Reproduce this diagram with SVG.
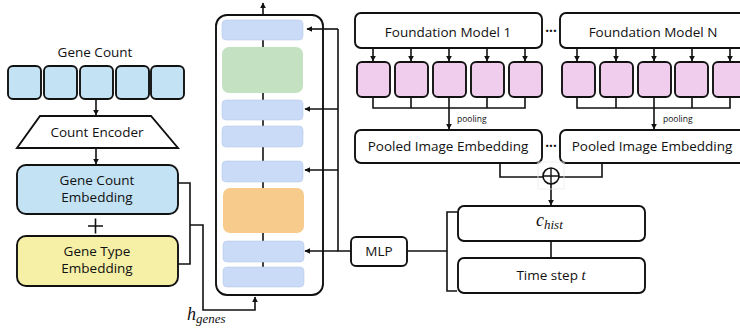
<svg xmlns="http://www.w3.org/2000/svg" width="740" height="328" viewBox="0 0 740 328">
<defs>
<style>
.bx{stroke:#111;stroke-width:1.9;}
.blue{fill:#c3e2f3;}
.w{fill:#fff;}
.pink{fill:#f0cdec;}
.ib{fill:#c9dbf7;stroke:#b8cbe8;stroke-width:0.6;}
.ln{fill:none;stroke:#111;stroke-width:1.6;}
.t{font-family:"Open Sans","Liberation Sans",sans-serif;font-size:13.5px;fill:#111;text-anchor:middle;}
.s{font-family:"Open Sans","Liberation Sans",sans-serif;font-size:8.5px;fill:#111;}
.m{font-family:"Liberation Serif",serif;font-style:italic;fill:#111;}
</style>
<marker id="ah" viewBox="0 0 10 10" refX="9" refY="5" markerWidth="6" markerHeight="6" orient="auto" markerUnits="userSpaceOnUse">
<path d="M0,0 L10,5 L0,10 z" fill="#111"/>
</marker>
</defs>
<rect width="740" height="328" fill="#fff"/>

<g id="connectors">
<line class="ln" x1="96" y1="99" x2="96" y2="115" marker-end="url(#ah)"/>
<line class="ln" x1="96" y1="148" x2="96" y2="164" marker-end="url(#ah)"/>
<path class="ln" d="M178,183 H190 V264 H178"/>
<path class="ln" d="M190,225 H203 V310 H255 V297" marker-end="url(#ah)"/>
<line class="ln" x1="263" y1="15" x2="263" y2="3" marker-end="url(#ah)"/>
<path class="ln" d="M351,251 H338 V29"/>
<line class="ln" x1="338" y1="29" x2="307" y2="29" marker-end="url(#ah)"/>
<line class="ln" x1="338" y1="109" x2="305" y2="109" marker-end="url(#ah)"/>
<line class="ln" x1="338" y1="170" x2="305" y2="170" marker-end="url(#ah)"/>
<line class="ln" x1="338" y1="251" x2="305" y2="251" marker-end="url(#ah)"/>
<line class="ln" x1="407" y1="251" x2="447" y2="251"/>
<path class="ln" d="M457,212 H447 V291 H457"/>
<line class="ln" x1="551" y1="241" x2="551" y2="258"/>
<g>
<line class="ln" x1="373" y1="48" x2="373" y2="61" marker-end="url(#ah)"/>
<line class="ln" x1="411" y1="48" x2="411" y2="61" marker-end="url(#ah)"/>
<line class="ln" x1="449" y1="48" x2="449" y2="61" marker-end="url(#ah)"/>
<line class="ln" x1="487" y1="48" x2="487" y2="61" marker-end="url(#ah)"/>
<line class="ln" x1="525" y1="48" x2="525" y2="61" marker-end="url(#ah)"/>
<path class="ln" d="M373,97 V108 H525 V97 M411,97 V108 M449,97 V108 M487,97 V108"/>
<line class="ln" x1="449" y1="108" x2="449" y2="129" marker-end="url(#ah)"/>
</g>
<g>
<line class="ln" x1="577" y1="48" x2="577" y2="61" marker-end="url(#ah)"/>
<line class="ln" x1="616" y1="48" x2="616" y2="61" marker-end="url(#ah)"/>
<line class="ln" x1="654" y1="48" x2="654" y2="61" marker-end="url(#ah)"/>
<line class="ln" x1="692" y1="48" x2="692" y2="61" marker-end="url(#ah)"/>
<line class="ln" x1="730" y1="48" x2="730" y2="61" marker-end="url(#ah)"/>
<path class="ln" d="M577,97 V108 H730 V97 M616,97 V108 M654,97 V108 M692,97 V108"/>
<line class="ln" x1="654" y1="108" x2="654" y2="129" marker-end="url(#ah)"/>
</g>
<path class="ln" d="M500,164 V177 H543"/>
<path class="ln" d="M602,164 V177 H559"/>
<line class="ln" x1="551" y1="183" x2="551" y2="205" marker-end="url(#ah)"/>
</g>

<g id="gene-count">
<text class="t" x="95" y="57" font-size="14">Gene Count</text>
<rect class="bx blue" x="8" y="66" width="33" height="33" rx="5"/>
<rect class="bx blue" x="44" y="66" width="33" height="33" rx="5"/>
<rect class="bx blue" x="80" y="66" width="33" height="33" rx="5"/>
<rect class="bx blue" x="116" y="66" width="33" height="33" rx="5"/>
<rect class="bx blue" x="151" y="66" width="33" height="33" rx="5"/>
</g>

<g id="count-encoder">
<polygon class="bx w" points="40,116 151,116 178,148 17,148"/>
<text class="t" x="97" y="137" font-size="14">Count Encoder</text>
</g>

<g id="gene-count-embedding">
<rect class="bx blue" x="17" y="165" width="161" height="49" rx="9"/>
<text class="t" x="97" y="185">Gene Count</text>
<text class="t" x="97" y="202">Embedding</text>
</g>

<g id="plus">
<path class="ln" d="M88,226 H103 M95.5,218.5 V233.5" stroke-width="1.4"/>
</g>

<g id="gene-type-embedding">
<rect class="bx" fill="#f5f0a6" x="17" y="236" width="161" height="50" rx="9"/>
<text class="t" x="97" y="256">Gene Type</text>
<text class="t" x="97" y="273">Embedding</text>
</g>

<g id="h-genes">
<text class="m" x="187" y="320" font-size="18">h<tspan font-size="13" dy="3">genes</tspan></text>
</g>

<g id="backbone">
<rect class="bx" fill="none" x="216" y="15" width="107" height="280" rx="11"/>
<line class="ln" x1="263" y1="40" x2="263" y2="268"/>
<rect class="ib" x="222" y="20" width="81" height="20" rx="4"/>
<rect fill="#c4e2c2" x="222" y="47" width="81" height="46" rx="7"/>
<rect class="ib" x="222" y="100" width="81" height="20" rx="4"/>
<rect class="ib" x="222" y="126" width="81" height="21" rx="4"/>
<rect class="ib" x="222" y="161" width="81" height="21" rx="4"/>
<rect fill="#f7cb8b" x="223" y="188" width="81" height="45" rx="7"/>
<rect class="ib" x="223" y="241" width="81" height="21" rx="4"/>
<rect class="ib" x="223" y="267" width="81" height="20" rx="4"/>
</g>

<g id="foundation-model-1">
<rect class="bx w" x="355" y="13" width="187" height="35" rx="6"/>
<text class="t" x="448" y="37" font-size="14">Foundation Model 1</text>
<rect class="bx pink" x="357" y="62" width="33" height="35" rx="5"/>
<rect class="bx pink" x="395" y="62" width="33" height="35" rx="5"/>
<rect class="bx pink" x="433" y="62" width="33" height="35" rx="5"/>
<rect class="bx pink" x="471" y="62" width="33" height="35" rx="5"/>
<rect class="bx pink" x="509" y="62" width="33" height="35" rx="5"/>
<text class="s" x="457" y="122">pooling</text>
</g>

<g id="dots">
<text class="t" x="551" y="36" font-weight="bold">···</text>
<text class="t" x="551" y="151" font-weight="bold">···</text>
</g>

<g id="foundation-model-n">
<rect class="bx w" x="560" y="13" width="190" height="35" rx="6"/>
<text class="t" x="653" y="37" font-size="14">Foundation Model N</text>
<rect class="bx pink" x="562" y="62" width="33" height="35" rx="5"/>
<rect class="bx pink" x="600" y="62" width="33" height="35" rx="5"/>
<rect class="bx pink" x="638" y="62" width="33" height="35" rx="5"/>
<rect class="bx pink" x="675" y="62" width="33" height="35" rx="5"/>
<rect class="bx pink" x="713" y="62" width="33" height="35" rx="5"/>
<text class="s" x="663" y="122">pooling</text>
</g>

<g id="pooled-1">
<rect class="bx w" x="355" y="130" width="187" height="33" rx="6"/>
<text class="t" x="448" y="151">Pooled Image Embedding</text>
</g>

<g id="pooled-n">
<rect class="bx w" x="560" y="130" width="190" height="33" rx="6"/>
<text class="t" x="652" y="151">Pooled Image Embedding</text>
</g>

<g id="oplus">
<rect x="538" y="162" width="26" height="27" fill="none" stroke="#ececec" stroke-width="0.8"/>
<circle cx="551" cy="176" r="8" fill="#fff" stroke="#111" stroke-width="1.6"/>
<path d="M543,176 H559 M551,168 V184" stroke="#111" stroke-width="1.4"/>
</g>

<g id="mlp">
<rect class="bx w" x="351" y="237" width="56" height="29" rx="5"/>
<text class="t" x="379" y="256" font-size="14">MLP</text>
</g>

<g id="c-hist">
<rect class="bx w" x="458" y="206" width="187" height="35" rx="6"/>
<text class="m" x="536" y="226" font-size="18">c<tspan font-size="13" dy="3">hist</tspan></text>
</g>

<g id="time-step">
<rect class="bx w" x="458" y="258" width="187" height="35" rx="6"/>
<text class="t" x="551" y="280">Time step <tspan class="m" font-size="15">t</tspan></text>
</g>
</svg>
